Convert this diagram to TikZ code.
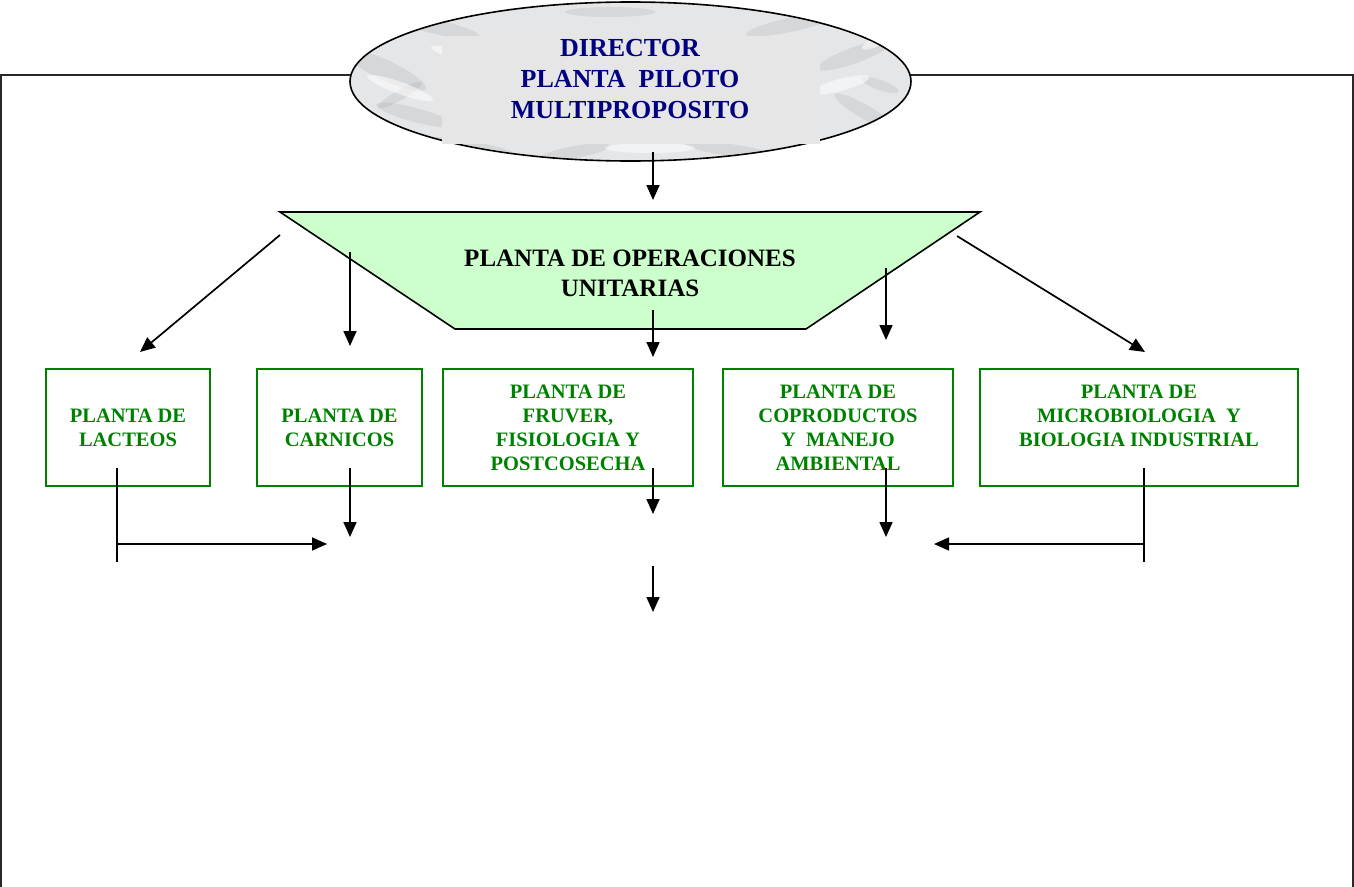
\documentclass[tikz,border=0pt]{standalone}
\usepackage{fontspec}
\setmainfont{Liberation Serif}
\usetikzlibrary{shapes.geometric,arrows.meta,calc}
\definecolor{navytxt}{RGB}{0,0,128}
\definecolor{gboxc}{RGB}{0,128,0}
\definecolor{opsfill}{RGB}{204,255,204}
\definecolor{marble}{RGB}{228,230,232}
\definecolor{marbledk}{RGB}{160,163,168}
\definecolor{dirrect}{RGB}{230,230,230}
\definecolor{framec}{RGB}{40,40,40}
\begin{document}
\begin{tikzpicture}[x=1pt,y=-1pt,
  gbox/.style={draw=gboxc,line width=2.4pt,text=gboxc,align=center,
    font=\fontsize{20.5}{24}\selectfont\bfseries,minimum height=117pt,inner sep=0pt},
  arr/.style={line width=1.7pt,-{Triangle[length=15pt,width=13pt]}},
  ln/.style={line width=1.7pt},
  streak/.style={marbledk,opacity=0.22}]
\useasboundingbox (0,0) rectangle (1354,886);
% frame
\draw[framec,line width=1.6pt] (1,890) -- (1,75) -- (1353,75) -- (1353,890);
% director ellipse
\node[ellipse,draw,line width=1.6pt,fill=marble,minimum width=561pt,minimum height=159pt,inner sep=0pt] (director) at (630.5,81.5) {};
\begin{scope}
\clip (630.5,81.5) ellipse [x radius=279.5, y radius=78.5];
\foreach \a/\b/\r/\s/\t in {385/70/45/10/-25, 415/115/40/7/-15, 470/148/50/7/-10, 575/152/35/6/10, 730/150/45/6/-8, 855/55/40/8/20, 865/112/35/7/-30, 790/25/45/7/12, 440/28/40/7/-12, 610/12/45/5/0, 400/95/25/5/30, 880/85/20/5/-20}{
  \fill[streak,rotate around={\t:(\a,\b)}] (\a,\b) ellipse [x radius=\r, y radius=\s];
}
\foreach \a/\b/\r/\s/\t in {400/88/35/6/-20, 460/55/30/5/-15, 840/85/30/6/15, 880/40/20/5/25, 650/148/45/5/0, 520/135/30/5/-8}{
  \fill[white,opacity=0.55,rotate around={\t:(\a,\b)}] (\a,\b) ellipse [x radius=\r, y radius=\s];
}
\end{scope}
\node[fill=dirrect,minimum width=378pt,minimum height=108pt,inner sep=0pt] (dirbox) at (631,90) {};
\node[text=navytxt,align=center,font=\fontsize{26}{31}\selectfont\bfseries,inner sep=0pt] (dirtext) at (630,79) {DIRECTOR\\PLANTA\ \ PILOTO\\MULTIPROPOSITO};
% operations trapezium
\draw[fill=opsfill,line width=1.6pt] (280,212) -- (980,212) -- (806,329) -- (455,329) -- cycle;
\node[align=center,font=\fontsize{25}{30}\selectfont\bfseries,inner sep=0pt] (ops) at (630,273) {PLANTA DE OPERACIONES\\UNITARIAS};
% boxes
\node[gbox,minimum width=164pt] (b1) at (128,427.5) {PLANTA DE\\LACTEOS};
\node[gbox,minimum width=165pt] (b2) at (339.5,427.5) {PLANTA DE\\CARNICOS};
\node[gbox,minimum width=250pt] (b3) at (568,427.5) {PLANTA DE\\FRUVER,\\FISIOLOGIA Y\\POSTCOSECHA};
\node[gbox,minimum width=230pt] (b4) at (838,427.5) {PLANTA DE\\COPRODUCTOS\\Y\ \ MANEJO\\AMBIENTAL};
\node[gbox,minimum width=318pt] (b5) at (1139,427.5) {PLANTA DE\\MICROBIOLOGIA\ \ Y\\BIOLOGIA INDUSTRIAL\\\mbox{}};
% coordinates
\coordinate (c1a) at (653,152); \coordinate (c1b) at (653,200);
\coordinate (c2a) at (280,235); \coordinate (c2b) at (140,352);
\coordinate (c3a) at (350,252); \coordinate (c3b) at (350,346);
\coordinate (c4a) at (653,310); \coordinate (c4b) at (653,357);
\coordinate (c5a) at (886,268); \coordinate (c5b) at (886,340);
\coordinate (c6a) at (957,236); \coordinate (c6b) at (1145,352);
\coordinate (l1a) at (117,468); \coordinate (l1b) at (117,562);
\coordinate (l1m) at (117,544); \coordinate (l1e) at (327,544);
\coordinate (l2a) at (350,468); \coordinate (l2b) at (350,537);
\coordinate (l3a) at (653,468); \coordinate (l3b) at (653,514);
\coordinate (l3c) at (653,566); \coordinate (l3d) at (653,612);
\coordinate (l4a) at (886,468); \coordinate (l4b) at (886,537);
\coordinate (l5a) at (1144,468); \coordinate (l5b) at (1144,562);
\coordinate (l5m) at (1144,544); \coordinate (l5e) at (934,544);
% connectors
\draw[arr] (c1a) -- (c1b);
\draw[arr] (c2a) -- (c2b);
\draw[arr] (c3a) -- (c3b);
\draw[arr] (c4a) -- (c4b);
\draw[arr] (c5a) -- (c5b);
\draw[arr] (c6a) -- (c6b);
\draw[ln] (l1a) -- (l1b);
\draw[arr] (l1m) -- (l1e);
\draw[arr] (l2a) -- (l2b);
\draw[arr] (l3a) -- (l3b);
\draw[arr] (l3c) -- (l3d);
\draw[arr] (l4a) -- (l4b);
\draw[ln] (l5a) -- (l5b);
\draw[arr] (l5m) -- (l5e);
\end{tikzpicture}
\end{document}
